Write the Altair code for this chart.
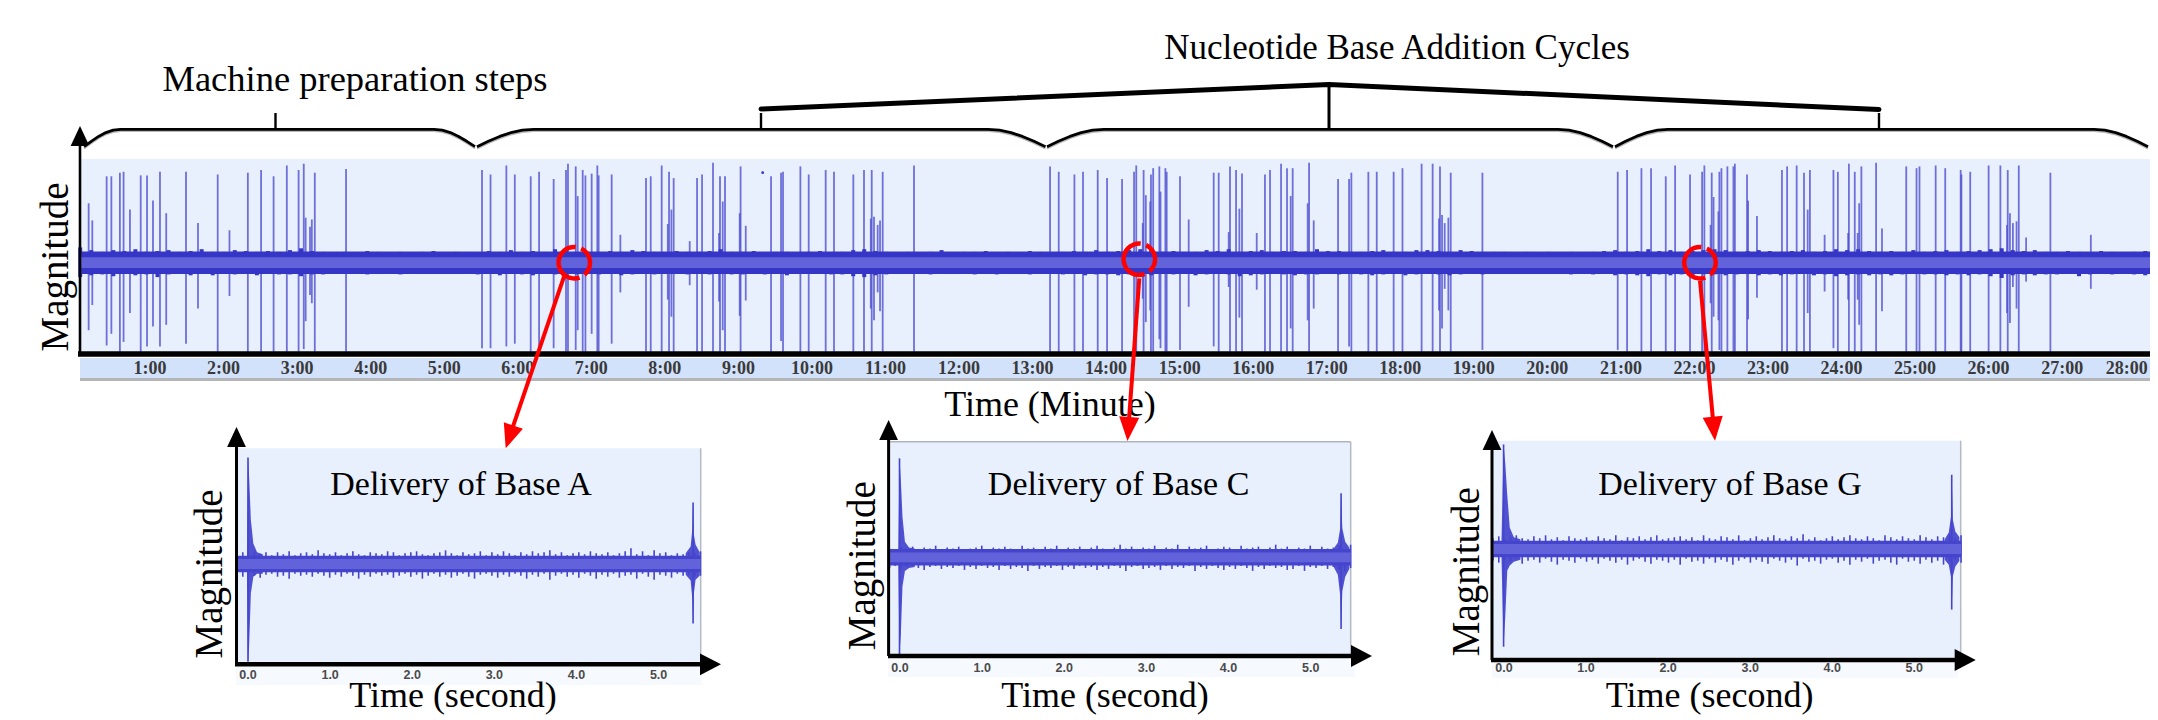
import altair as alt
import pandas as pd

# ---------- main trace (time in minutes, magnitude in % of full scale) ----------
spike_min = [
 .165,.215,.41,.474,.59,.64,.727,.873,.959,1.04,1.135,1.22,1.489,1.652,1.92,2.08,2.33,2.51,2.68,2.86,
 3.02,3.09,3.116,3.175,3.2,3.24,3.665,5.514,5.63,5.845,5.96,6.176,6.29,
 6.488,6.656,6.683,6.788,6.815,6.883,6.92,7.005,7.082,7.10,7.277,7.395,7.744,7.808,7.957,8.04,8.057,8.089,8.12,
 8.338,8.438,8.506,8.655,8.737,8.75,8.787,8.818,9.018,9.03,9.10,9.444,9.58,9.607,9.843,9.956,10.187,10.30,
 10.563,10.708,10.80,10.813,10.844,10.894,10.926,10.962,11.388,
 13.238,13.356,13.569,13.686,13.886,14.013,14.217,14.38,14.41,14.498,14.51,14.54,14.60,14.61,14.64,14.724,14.74,14.806,14.824,
 15.005,15.123,15.463,15.531,15.667,15.685,15.767,15.812,15.848,16.048,16.16,16.229,16.379,16.46,16.51,16.537,16.741,16.76,16.823,
 17.154,17.304,17.335,17.566,17.68,17.91,18.03,18.29,18.44,18.527,18.54,18.568,18.604,18.654,18.686,19.117,
 20.957,21.084,21.279,21.41,21.61,21.737,21.94,22.104,22.135,22.22,22.235,22.26,22.326,22.339,22.367,22.448,22.53,22.55,22.715,22.73,22.85,
 23.19,23.26,23.39,23.49,23.54,23.57,23.77,23.89,23.95,24.09,24.10,24.18,24.22,24.24,24.27,24.47,24.55,24.88,25.02,25.06,25.28,25.41,25.62,25.63,25.75,
 26.0,26.16,26.25,26.26,26.29,26.33,26.38,26.41,26.51,26.84,27.39]
spike_top = [
 66,47,96,96,100,101,59,97,97,69,101,55,101,44,98,36,100,103,96,108,
 103,110,50,40,48,100,104,103,98,108,98,96,101,
 93,103,110,107,74,103,97,99,108,97,98,31,94,96,108,43,101,59,94,
 24,94,98,111,33,96,68,96,55,107,41,96,100,101,107,98,103,101,
 98,103,49,103,51,42,47,101,108,
 107,101,98,101,103,94,93,101,108,44,103,75,68,98,105,107,79,105,101,
 96,48,100,100,34,107,103,60,99,33,98,103,110,105,74,105,66,111,47,
 93,93,100,101,101,101,105,110,110,49,107,53,44,50,100,100,
 101,103,105,105,96,108,98,101,108,42,100,73,57,101,105,107,107,110,98,69,52,
 103,107,108,100,59,103,31,103,101,33,110,101,33,66,107,111,38,107,105,107,108,105,103,98,101,
 108,108,42,103,55,44,46,108,28,100,31]
spike_low = [
 -75,-47,-92,-79,-99,-88,-56,-99,-93,-71,-93,-69,-90,-51,-99,-37,-99,-99,-99,-99,
 -99,-96,-65,-36,-45,-99,-99,-95,-95,-93,-90,-99,-99,
 -95,-99,-99,-97,-75,-99,-99,-79,-99,-99,-90,-33,-99,-99,-99,-41,-99,-60,-99,
 -25,-99,-99,-99,-43,-99,-75,-99,-59,-99,-42,-99,-87,-99,-99,-99,-99,-99,
 -99,-99,-51,-99,-64,-33,-54,-99,-99,
 -99,-99,-99,-99,-99,-99,-99,-99,-99,-40,-99,-66,-53,-99,-99,-85,-95,-99,-99,
 -97,-49,-93,-99,-27,-99,-99,-61,-99,-30,-99,-99,-99,-99,-73,-99,-64,-99,-51,
 -99,-93,-99,-99,-99,-99,-99,-99,-99,-53,-99,-73,-29,-53,-99,-97,
 -97,-99,-99,-99,-99,-99,-99,-99,-99,-45,-99,-60,-64,-97,-99,-99,-99,-99,-99,-63,-39,
 -99,-99,-99,-99,-56,-99,-32,-95,-99,-41,-99,-99,-41,-69,-99,-99,-54,-99,-99,-99,-99,-99,-99,-99,-99,
 -99,-99,-56,-99,-67,-27,-51,-99,-21,-99,-29]
assert len(spike_min) == len(spike_top) == len(spike_low)

main_upper = [
 17,14,12,14,13,15,12,13,14,12,13,15,12,12,14,13,12,13,12,
 14,16,13,12,11,12,11,13,12,11,12,11,12,13,11,12,11,11,13,
 12,14,12,13,12,15,13,11,12,11,13,12,14,13,12,11,13,12,12,
 13,15,12,12,13,11,12,12,11,12,13,11,12,14,15,13,12,11,12,
 11,12,14,11,12,12,13,11,12,11,13,12,11,12,13,12,14,12,13,
 14,15,14,12,13,12,12,14,13,15,12,13,14,12,13,13,12,15,13,
 13,12,12,13,14,12,12,14,14,13,12,14,13,11,12,12,11,12,11,
 12,11,12,11,12,13,14,12,13,15,13,14,12,13,14,15,14,12,13,
 14,13,12,13,14,12,13,15,14,15,13,12,13,12,14,12,13,14,12,
 13,14,15,16,14,13,14,12,12,13,12,11,13,12,11,12,13,12]
main_lower = [
 16,14,13,15,12,14,13,16,13,12,14,12,14,12,13,12,14,12,13,
 13,15,13,13,12,12,11,13,12,11,13,12,12,11,12,12,11,13,12,
 14,12,13,14,12,13,14,13,12,13,12,14,13,12,13,12,12,13,11,
 13,12,13,13,12,13,12,14,12,11,12,13,13,15,16,14,13,12,12,
 11,13,12,11,12,13,12,13,11,12,13,11,12,13,12,14,13,13,14,
 13,14,14,12,13,12,14,13,12,13,15,14,13,12,13,14,13,13,12,
 13,12,13,14,13,12,14,13,12,13,14,13,11,13,12,11,12,11,12,
 11,12,13,12,13,12,14,13,14,15,13,14,13,14,13,13,14,13,12,
 14,13,14,13,12,14,13,15,14,13,14,13,14,13,12,13,13,14,13,
 14,13,15,17,14,13,14,13,13,12,15,13,12,13,12,13,14,13]
minute_ticks = list(range(1, 29))

# ---------- delivery panels (time in seconds, magnitude in % of full scale) ----------
second_ticks = [0, 1, 2, 3, 4, 5]

a_upper = [
 10,12,11,13,10,12,9,12,10,13,9,11,12,10,14,11,
 10,12,9,11,13,10,9,12,11,10,13,12,9,11,12,13,
 10,9,11,12,14,11,9,12,10,11,13,9,12,10,13,11,
 9,12,10,13,11,12,14,10,12,9,11,12,10,13,11,10,
 12,9,11,13,16,10,13,9,14,11,12,9,11,10,12,11,13]
a_lower = [
 11,13,10,12,14,11,10,13,12,15,10,12,11,13,10,12,
 14,11,13,10,12,15,11,13,10,12,11,14,12,10,13,11,
 15,12,10,13,11,14,12,10,13,15,11,10,12,14,11,13,
 10,12,15,11,13,10,16,12,10,13,11,14,10,12,15,11,
 13,10,14,12,11,15,10,13,16,11,12,14,10,12,11,13,12]
c_upper = [
 9,8,10,9,11,8,10,9,12,8,10,9,11,8,9,10,
 12,8,10,9,11,9,8,12,9,10,8,11,9,12,8,10,
 9,11,8,10,12,9,8,10,13,9,11,8,10,9,12,8,
 10,9,13,8,11,9,10,12,8,9,11,10,8,12,9,10,
 11,8,10,13,9,11,8,10,9,12,8,11,9,10,12,8,13]
c_lower = [
 11,9,12,10,9,11,13,10,9,12,10,11,9,13,10,12,
 9,11,10,13,9,12,10,11,14,9,12,10,11,9,13,10,
 12,9,11,10,13,10,12,9,11,14,10,9,12,11,10,13,
 9,12,10,11,9,14,10,12,9,11,13,10,12,9,11,14,
 10,12,9,11,10,13,12,9,14,10,11,9,12,10,13,15,11]
g_upper = [
 11,13,10,12,14,11,10,13,11,14,10,12,9,13,11,10,
 12,9,13,11,10,14,9,12,11,13,10,12,14,10,11,12,
 13,10,12,9,14,11,10,13,12,10,14,9,11,13,10,12,
 14,11,10,13,11,15,10,12,9,11,13,10,12,14,11,10,
 13,11,9,14,12,10,13,11,10,14,12,10,13,12,15,11,14]
g_lower = [
 12,14,11,13,10,15,12,11,14,10,13,16,11,12,14,10,
 13,11,15,10,12,14,11,16,12,10,13,15,11,12,14,11,
 16,10,13,12,15,10,14,11,13,16,12,10,14,11,13,15,
 10,12,14,11,17,10,13,12,15,11,10,14,12,16,11,13,
 10,15,12,11,14,16,10,13,12,15,11,14,12,16,13,11,14]

a_start_t = [-.012,0,.013,.035,.065,.11,.18]
a_start_up = [10,109,90,45,21,12,10]
a_start_lo = [-10,-100,-85,-30,-13,-10,-10]
a_end_t = [5.33,5.39,5.41,5.42,5.43,5.45,5.5]
a_end_up = [11,18,35,63,30,20,12]
a_end_lo = [-11,-17,-35,-61,-30,-16,-12]
c_start_t = [-.02,-.006,.01,.03,.06,.11,.18]
c_start_up = [9,102,80,42,16,10,9]
c_start_lo = [-10,-100,-80,-30,-14,-11,-10]
c_end_t = [5.28,5.33,5.36,5.37,5.385,5.42,5.47]
c_end_up = [9,15,30,66,30,16,10]
c_end_lo = [-10,-18,-40,-74,-35,-20,-12]
g_start_t = [-.03,-.005,.015,.04,.07,.12,.2]
g_start_up = [10,107,88,55,22,12,10]
g_start_lo = [-10,-100,-70,-22,-17,-13,-11]
g_end_t = [5.37,5.42,5.45,5.456,5.47,5.5,5.55]
g_end_up = [10,17,35,76,30,18,12]
g_end_lo = [-11,-16,-30,-62,-28,-18,-12]

BG = "#E8F0FD"
STRIP = "#D3E2FB"
STRIP2 = "#F6F9FE"
DARK = "#3636C6"
SUBDARK = "#4444CC"
CORE = "#6263DB"
SPIKE = "#4F4FD0"
RED = "#FF0000"
SERIF = "Liberation Serif"
W, H = 2142, 712
layers = []


def X(scale, f="x"):
    return alt.X(f"{f}:Q", scale=scale, axis=None, title=None)


def Y(scale, f="y"):
    return alt.Y(f"{f}:Q", scale=scale, axis=None, title=None)


def lin(d, r):
    return alt.Scale(domain=d, range=r, nice=False, zero=False)


# annotation frame, expressed in the figure's own units
FX = lin([0, 2158], [-8, 2150])
FY = lin([0, 720], [-8, 712])


def rect(x, x2, y, y2, color):
    df = pd.DataFrame({"x": [x], "x2": [x2], "y": [y], "y2": [y2]})
    layers.append(alt.Chart(df).mark_rect(color=color).encode(
        x=X(FX), x2="x2:Q", y=Y(FY), y2="y2:Q"))


def seg(x, y, x2, y2, color="black", w=2.0, cap="butt"):
    df = pd.DataFrame({"x": [x], "x2": [x2], "y": [y], "y2": [y2]})
    layers.append(alt.Chart(df).mark_rule(color=color, strokeWidth=w, strokeCap=cap).encode(
        x=X(FX), x2="x2:Q", y=Y(FY), y2="y2:Q"))


def poly(xs, ys, color="black", w=2.5, cap="butt"):
    df = pd.DataFrame({"x": xs, "y": ys})
    layers.append(alt.Chart(df).mark_line(color=color, strokeWidth=w, strokeCap=cap, strokeJoin="round").encode(
        x=X(FX), y=Y(FY)))


def label(text, x, y, size, angle=0, font=SERIF, color="black"):
    df = pd.DataFrame({"x": [x], "y": [y], "t": [text]})
    layers.append(alt.Chart(df).mark_text(
        font=font, fontSize=size, angle=angle, align="center", baseline="alphabetic",
        color=color).encode(x=X(FX), y=Y(FY), text="t:N"))


def head(x, y, path, size, color="black", angle=0):
    df = pd.DataFrame({"x": [x], "y": [y]})
    layers.append(alt.Chart(df).mark_point(
        shape=path, size=size, filled=True, opacity=1, color=color, strokeWidth=0, angle=angle).encode(
        x=X(FX), y=Y(FY)))


UP = "M0,0 L-0.47,1 L0.47,1 Z"
RIGHT = "M0,0 L-1,-0.52 L-1,0.52 Z"
DOWN = "M0,0 L-0.42,-1 L0.42,-1 Z"


def band(sx, sy, t0, t1, upper, lower, core, level, color, comb):
    """Waveform envelope: a flat body, read-off peaks as a comb, and a lighter core."""
    n = min(len(upper), len(lower))
    ts = [t0 + i * (t1 - t0) / (n - 1) for i in range(n)]
    body = pd.DataFrame({"x": [t0], "x2": [t1], "y": [level], "y2": [-level]})
    layers.append(alt.Chart(body).mark_rect(color=color).encode(x=X(sx), x2="x2:Q", y=Y(sy), y2="y2:Q"))
    df = pd.DataFrame({"x": ts, "y": upper[:n], "y2": [-v for v in lower[:n]]})
    layers.append(alt.Chart(df).mark_rule(color=color, strokeWidth=comb).encode(
        x=X(sx), y=Y(sy), y2="y2:Q"))
    dc = pd.DataFrame({"x": [t0], "x2": [t1], "y": [core], "y2": [-core]})
    layers.append(alt.Chart(dc).mark_rect(color=CORE).encode(x=X(sx), x2="x2:Q", y=Y(sy), y2="y2:Q"))


def transient(sx, sy, t, up, lo):
    df = pd.DataFrame({"x": t, "y": up, "y2": lo})
    layers.append(alt.Chart(df).mark_area(color="#3F3FCC", opacity=.9).encode(
        x=X(sx), y=Y(sy), y2="y2:Q"))
    i = max(range(len(up)), key=lambda k: up[k])
    dr = pd.DataFrame({"x": [t[i]], "y": [up[i]], "y2": [lo[i]]})
    layers.append(alt.Chart(dr).mark_rule(color="#4444CE", strokeWidth=1.6).encode(
        x=X(sx), y=Y(sy), y2="y2:Q"))


# --------------------------- main panel -------------------------------
MX = lin([0, 28], [76.5 - 8, 2135.7 - 8])
MY = lin([-100, 100], [352.7 - 8, 172.7 - 8])

rect(80, 2156, 159, 352, BG)
rect(80, 2156, 358, 378, STRIP)
rect(80, 2156, 378, 381, "#B4B6BA")

dfs = pd.DataFrame({"x": spike_min, "y": spike_top, "y2": spike_low})
layers.append(alt.Chart(dfs).mark_rule(color=SPIKE, strokeWidth=1.8, opacity=.8).encode(
    x=X(MX), y=Y(MY), y2="y2:Q"))
band(MX, MY, 0.05, 28.28, main_upper, main_lower, 6, 12.5, DARK, 4)
dot = pd.DataFrame({"x": [9.33], "y": [100]})
layers.append(alt.Chart(dot).mark_circle(color=DARK, size=8, opacity=1).encode(x=X(MX), y=Y(MY)))

TICK_STYLE = dict(font="Liberation Sans Narrow", fontSize=18, fontWeight="bold", color="#3A3A3A", baseline="middle")
dft = pd.DataFrame({"x": minute_ticks[:-1], "t": [f"{m}:00" for m in minute_ticks[:-1]]})
layers.append(alt.Chart(dft).mark_text(**TICK_STYLE).encode(x=X(MX), y=alt.value(369 - 8), text="t:N"))
dfl = pd.DataFrame({"x": minute_ticks[-1:], "t": [f"{m}:00" for m in minute_ticks[-1:]]})
layers.append(alt.Chart(dfl).mark_text(dx=-9, **TICK_STYLE).encode(x=X(MX), y=alt.value(369 - 8), text="t:N"))

seg(80, 146, 80, 354, w=2.6)
seg(78, 354, 2156, 354, w=5.5)
head(80, 126, UP, 1600)

# braces
DROPS = [1, .69, .41, .19, .05, 0]
FRAC = [0, .2, .4, .6, .8, 1]
for x0, x1, x2, x3, stem, top in [
    (84, 120.5, 434, 475, 275.5, 113),
    (477, 533.7, 988, 1045.5, 761, 113),
    (1047, 1104, 1558, 1613, 1329, 84),
    (1615, 1668, 2094, 2148, 1879, 113),
]:
    xs = [x0 + (x1 - x0) * f for f in FRAC] + [x2 + (x3 - x2) * f for f in FRAC]
    ys = [129.3 + 17.4 * d for d in DROPS] + [129.3 + 17.4 * d for d in reversed(DROPS)]
    poly(xs, [y + 1.8 for y in ys], color="#B9B9B9", w=2)
    poly(xs, ys, w=2.8)
    seg(stem, top, stem, 129.3, w=2.4 if stem != 1329 else 3)
poly([761, 1329, 1879], [109, 84.5, 109.5], w=5, cap="round")

label("Machine preparation steps", 355, 90.7, 36.5)
label("Nucleotide Base Addition Cycles", 1397, 59.3, 35)
label("Time (Minute)", 1050, 416, 36)
label("Magnitude", 68, 267, 39, angle=270)

# ---------------------- delivery panels -------------------------------
panels = [
    dict(name="Delivery of Base A", bg=(237, 700.7, 448.3, 661.7), xr=(248, 658.6), yr=(661.7, 466.3),
         t=(-.134, 5.51), up=a_upper, lo=a_lower, st=(a_start_t, a_start_up, a_start_lo),
         en=(a_end_t, a_end_up, a_end_lo), strip=(236, 702, 667, 685), lab=675, ax=664.3, axl=(235, 706),
         tip=721, yx=236.5, ytip=427, ybase=447, title=461, time=453, mag=222, magy=574, border=False),
    dict(name="Delivery of Base C", bg=(889.6, 1350.7, 441.7, 654.3), xr=(900, 1310.7), yr=(654.3, 460.3),
         t=(-.127, 5.486), up=c_upper, lo=c_lower, st=(c_start_t, c_start_up, c_start_lo),
         en=(c_end_t, c_end_up, c_end_lo), strip=(888, 1355, 659, 677), lab=668, ax=656, axl=(888, 1354),
         tip=1372, yx=888.6, ytip=420, ybase=440, title=1118.6, time=1105, mag=874.6, magy=565.7, border=True),
    dict(name="Delivery of Base G", bg=(1492.9, 1960.7, 440.7, 657.3), xr=(1504, 1914.3), yr=(646.7, 451.3),
         t=(-.135, 5.57), up=g_upper, lo=g_lower, st=(g_start_t, g_start_up, g_start_lo),
         en=(g_end_t, g_end_up, g_end_lo), strip=(1492, 1958, 662, 678), lab=668, ax=660, axl=(1491, 1958),
         tip=1975.7, yx=1492, ytip=430, ybase=450, title=1730, time=1709.6, mag=1478.6, magy=571.7, border=False),
]
for p in panels:
    b = p["bg"]
    rect(b[0], b[1], b[2], b[3], BG)
    s = p["strip"]
    rect(s[0], s[1], s[2], s[3], STRIP2)
    seg(b[1], b[2], b[1], b[3], color="#B5BAC4", w=1.5)
    if p["border"]:
        seg(b[0], b[2], b[1], b[2], color="#AEB4C0", w=1.5)
    sx = lin([0, 5], [p["xr"][0] - 8, p["xr"][1] - 8])
    sy = lin([-100, 100], [p["yr"][0] - 8, p["yr"][1] - 8])
    transient(sx, sy, *p["st"])
    transient(sx, sy, *p["en"])
    band(sx, sy, p["t"][0], p["t"][1], p["up"], p["lo"], 5, 8.5, SUBDARK, 1.6)
    dl = pd.DataFrame({"x": second_ticks, "t": [f"{v}.0" for v in second_ticks]})
    layers.append(alt.Chart(dl).mark_text(
        font="Liberation Sans", fontSize=12.5, fontWeight="bold", color="#4A4A4A", baseline="middle").encode(
        x=X(sx), y=alt.value(p["lab"] - 8), text="t:N"))
    seg(p["yx"], p["ybase"], p["yx"], p["ax"], w=3)
    seg(p["axl"][0], p["ax"], p["axl"][1], p["ax"], w=4.5)
    head(p["tip"], p["ax"], RIGHT, 1764)
    head(p["yx"], p["ytip"], UP, 1600)
    label(p["name"], p["title"], 495, 34)
    label("Time (second)", p["time"], 706.7, 36)
    label("Magnitude", p["mag"], p["magy"], 39, angle=270)

# ------------------------- red call-outs ------------------------------
for cx, cy in [(574.3, 262.7), (1139.3, 259.3), (1700, 262.7)]:
    for a, b_ in [(.45, 2.44), (2.8, 6.37)]:
        dc = pd.DataFrame({"x": [cx], "y": [cy]})
        layers.append(alt.Chart(dc).mark_arc(
            color=RED, theta=a, theta2=b_, radius=18, radius2=13.5, opacity=1).encode(
            x=X(FX), y=Y(FY)))

for x0, y0, x1, y1, tx, ty, ang in [
    (564, 276.7, 512, 429.3, 505.7, 448.3, 18.6),
    (1139.3, 278.3, 1128.9, 421, 1127.5, 441, 4.15),
    (1700, 280.7, 1713.1, 420.8, 1715, 440.7, 354.6),
]:
    seg(x0, y0, x1, y1, color=RED, w=4)
    head(tx, ty, DOWN, 2304, color=RED, angle=ang)

chart = alt.layer(*layers).resolve_scale(x="independent", y="independent").properties(
    width=W, height=H, padding=0, autosize=alt.AutoSizeParams(type="none")
).configure_view(stroke=None)

chart.save("out.html", embed_options={"renderer": "svg", "actions": False})
